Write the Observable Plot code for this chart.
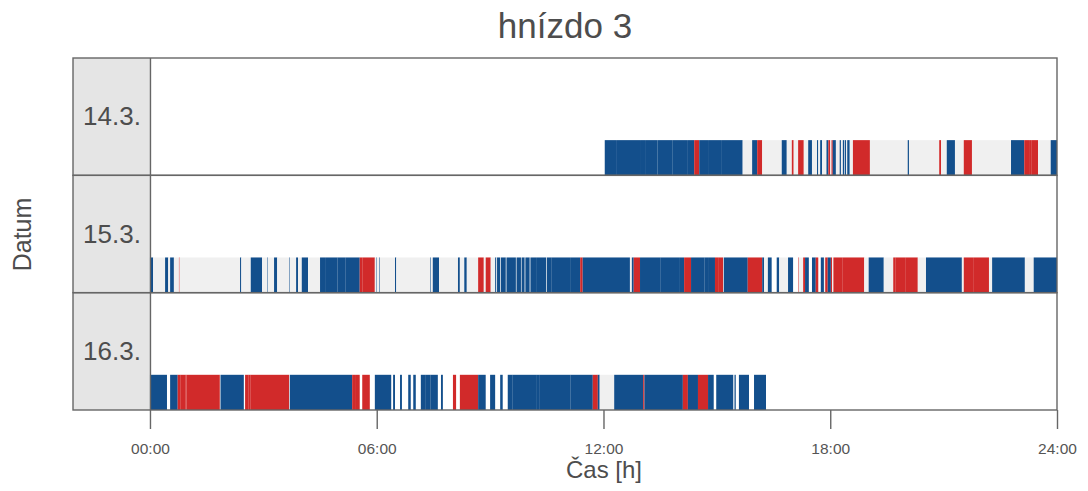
<!DOCTYPE html>
<html><head><meta charset="utf-8">
<script src="https://cdn.jsdelivr.net/npm/d3@7"></script>
<script src="https://cdn.jsdelivr.net/npm/@observablehq/plot@0.6"></script>
<style>
body{margin:0;background:#fff;font-family:"Liberation Sans",Arial,sans-serif;}
#title{height:56px;line-height:52px;margin-left:73px;width:984px;text-align:center;font-size:35px;color:#4d4d4d;}
#chart svg{overflow:visible;}
</style></head><body>
<div id="title">hnízdo 3</div>
<div id="chart"></div>
<script>
// day labels (facet rows)
const days = ["14.3.", "15.3.", "16.3."];
// segments per day as pairs: start minute, state ("B" blue, "R" red, "G" grey, null = no record); last pair marks the end
const day14 = [722,"B",740,"B",778,"B",786,"B",806,"B",830,"B",854,"B",864,"R",872,"B",886,"B",
  908,"B",941,"G",956,"B",964,"R",972,"G",1003,"B",1011,"G",1019,"R",1022,"G",1029,"R",
  1038,"G",1045,"B",1051,"G",1059,"B",1061,"G",1064,"B",1067,"G",1074,"B",1077,"R",1080,"G",
  1082,"R",1084,"B",1089,"G",1095,"B",1097,"G",1100,"B",1102,"G",1103,"B",1105,"G",1107,"B",
  1111,"G",1116,"R",1143,"G",1203,"B",1205,"G",1253,"R",1256,"G",1265,"B",1278,"G",1292,"R",
  1305,"G",1367,"B",1388,"R",1397,"R",1400,"R",1410,"G",1430,"B",1440,null];
const day15 = [0,"B",5,"G",24,"B",29,"G",32,"B",38,"G",46,"R",47,"G",143,"B",145,"G",160,"B",178,"G",
  186,"B",187,"G",197,"B",202,"G",221,"B",222,"G",232,"B",235,"G",241,"B",251,"G",270,"B",278,"B",
  298,"B",310,"B",333,"R",337,"R",357,"G",359,"B",360,"G",364,"B",365,"G",389,"B",391,"G",445,"B",
  446,"G",449,"B",459,"G",489,"B",492,"G",499,"B",503,"G",521,"R",530,"G",533,"R",541,"G",548,"B",
  550,"G",551,"B",556,"G",557,"B",565,"G",566,"B",581,"G",582,"B",589,"G",590,"B",595,"G",596,"B",
  603,"G",604,"B",613,"B",629,"G",630,"B",637,"B",667,"B",683,"R",687,"B",762,"G",765,"B",768,"R",
  778,"B",811,"B",840,"B",848,"R",859,"B",880,"B",886,"B",897,"R",902,"R",905,"R",910,"G",911,"B",
  949,"R",972,"B",975,"G",981,"B",987,null,995,"B",999,"G",1013,"B",1021,null,1029,"R",1030,"G",
  1037,"R",1040,"B",1046,null,1051,"B",1057,"R",1061,null,1065,"B",1070,"G",1072,"R",1076,"B",
  1081,"R",1083,"G",1085,"R",1099,"R",1134,"G",1141,"B",1165,"G",1180,"R",1184,"R",1200,"R",
  1219,"G",1232,"B",1289,"G",1292,"R",1308,"R",1332,"G",1337,"B",1389,"G",1403,"B",1440,null];
const day16 = [0,"B",27,null,32,"B",44,"R",48,"R",56,"R",58,"R",111,"G",112,"B",149,null,151,"R",
  156,"R",160,"R",221,"G",222,"B",321,"R",327,"R",333,null,337,"R",349,null,357,"B",383,null,
  386,"B",389,null,397,"B",400,null,410,"B",414,null,418,"B",422,null,430,"B",438,"B",445,"B",
  457,null,462,"B",465,null,481,"R",486,null,492,"R",521,"B",533,null,540,"B",548,null,556,"B",
  560,null,568,"B",576,"B",613,"B",619,"B",668,"B",703,"R",711,"B",714,"G",737,"B",783,"R",
  785,"B",846,"R",854,"B",870,"R",886,"B",895,null,899,"B",926,null,928,"B",930,null,935,"B",
  951,null,959,"B",978,null];
const stateCodes = ["B", "R", "G"];
const stateColors = ["#134f8c", "#d12a2a", "#f0f0f0"];
const tickMinutes = [0, 360, 720, 1080, 1440];
const tickLabels = ["00:00", "06:00", "12:00", "18:00", "24:00"];

const dayData = [day14, day15, day16];
const segments = [];
dayData.forEach((arr, row) => {
  for (let i = 0; i + 2 < arr.length; i += 2) {
    if (arr[i + 1]) segments.push({row, day: days[row], start: arr[i], end: arr[i + 2], state: arr[i + 1]});
  }
});

const stripStart = -122.2; // strip width in minute units (left label column)
const frameColor = "#666666";
const textColor = "#4d4d4d";

const chart = Plot.plot({
  width: 1088,
  height: 435,
  marginTop: 2,
  marginBottom: 81,
  marginLeft: 73,
  marginRight: 31,
  style: {fontFamily: '"Liberation Sans", Arial, sans-serif', background: "white", overflow: "visible"},
  x: {domain: [stripStart, 1440], axis: null},
  y: {domain: [0, 3], reverse: true, axis: null},
  color: {domain: stateCodes, range: stateColors},
  marks: [
    Plot.rect(days, {x1: () => stripStart, x2: () => 0, y1: (d, i) => i, y2: (d, i) => i + 1, fill: "#e5e5e5"}),
    Plot.rect(segments, {x1: "start", x2: "end", y1: d => d.row + 0.7, y2: d => d.row + 1, fill: "state"}),
    Plot.rect(days, {x1: () => stripStart, x2: () => 1440, y1: (d, i) => i, y2: (d, i) => i + 1, fill: "none", stroke: frameColor, strokeWidth: 1.4}),
    Plot.ruleX([0], {stroke: frameColor, strokeWidth: 1.4}),
    Plot.text(days, {x: () => stripStart / 2, y: (d, i) => i + 0.5, text: d => d, fontSize: 26, fill: textColor}),
    Plot.axisX(tickMinutes, {anchor: "bottom", tickFormat: () => "", tickSize: 19, stroke: frameColor, strokeWidth: 1.4, label: null}),
    Plot.text(tickMinutes, {x: d => d, text: (d, i) => tickLabels[i], frameAnchor: "bottom", lineAnchor: "top", dy: 32, fontSize: 15.5, fill: "#555"}),
    Plot.text(["Čas [h]"], {x: () => 720, frameAnchor: "bottom", lineAnchor: "middle", dy: 60, fontSize: 24, fill: textColor}),
    Plot.text(["Datum"], {frameAnchor: "left", rotate: -90, textAnchor: "middle", lineAnchor: "middle", dx: -51, fontSize: 25, fill: textColor})
  ]
});
document.getElementById("chart").appendChild(chart);
</script>
</body></html>
